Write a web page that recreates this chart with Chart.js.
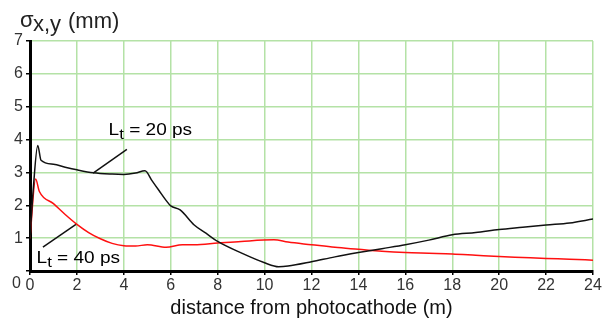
<!DOCTYPE html>
<html>
<head>
<meta charset="utf-8">
<script src="https://cdn.jsdelivr.net/npm/chart.js@4/dist/chart.umd.min.js"></script>
<style>
  html, body { margin: 0; padding: 0; background: #fff; }
  #wrap { width: 616px; height: 323px; position: relative; }
</style>
</head>
<body>
<div id="wrap"><canvas id="chart"></canvas></div>
<script>
// beam size along the line, two laser pulse lengths
const distance20 = [0, 0.15, 0.33, 0.47, 1, 1.5, 2, 2.7, 3.5, 4, 4.5, 4.9, 5.2, 5.5, 5.8, 6, 6.4, 7, 7.5, 8, 9, 10, 10.6, 11, 12, 13, 14, 15, 16, 17, 18, 19, 20, 21, 22, 23, 24];
const sigma20 = [1.0, 2.6, 3.82, 3.37, 3.25, 3.16, 3.08, 2.99, 2.95, 2.94, 2.98, 3.05, 2.75, 2.45, 2.15, 1.98, 1.86, 1.4, 1.15, 0.9, 0.55, 0.25, 0.13, 0.15, 0.28, 0.43, 0.56, 0.68, 0.8, 0.94, 1.1, 1.17, 1.26, 1.33, 1.4, 1.46, 1.58];

const distance40 = [0, 0.24, 0.4, 1, 1.5, 2, 2.5, 3, 3.5, 4, 4.5, 5, 5.8, 6.5, 7, 8, 9, 10.4, 11, 12, 13, 14, 15, 16, 17, 18, 19, 20, 21, 22, 23, 24];
const sigma40 = [1.0, 2.8, 2.42, 2.05, 1.72, 1.42, 1.17, 0.98, 0.84, 0.77, 0.76, 0.8, 0.72, 0.8, 0.8, 0.85, 0.9, 0.95, 0.88, 0.8, 0.72, 0.66, 0.6, 0.56, 0.54, 0.52, 0.48, 0.44, 0.41, 0.38, 0.36, 0.33];

// leader lines from the labels to the curves
const leader20 = [[4.13, 3.7], [2.69, 2.98]];
const leader40 = [[0.55, 0.73], [1.96, 1.42]];

const labels = [
  { text: '20', x: 3.35, y: 4.15 },
  { text: '40', x: 0.28, y: 0.24 }
];

const xTicks = [0, 2, 4, 6, 8, 10, 12, 14, 16, 18, 20, 22, 24];
const yTicks = [0, 1, 2, 3, 4, 5, 6, 7];

const toPoints = (xs, ys) => xs.map((x, i) => ({ x: x, y: ys[i] }));
const FONT = 'Liberation Sans, Arial, sans-serif';

// axis title on top, pulse length labels and the shifted zero label
const textPlugin = {
  id: 'texts',
  afterDraw(chart) {
    const { ctx, scales } = chart;
    ctx.save();
    ctx.fillStyle = '#222';
    ctx.textBaseline = 'alphabetic';
    ctx.textAlign = 'left';

    ctx.font = '22px ' + FONT;
    ctx.fillText('σ', 20, 27);
    ctx.fillText('x,y', 33, 31);
    ctx.fillText('(mm)', 68, 28);

    ctx.fillStyle = '#000';
    labels.forEach(l => {
      const px = scales.x.getPixelForValue(l.x);
      const py = scales.y.getPixelForValue(l.y);
      ctx.save();
      ctx.translate(px, py);
      ctx.scale(1.12, 1);
      ctx.font = '17px ' + FONT;
      ctx.fillText('L', 0, 0);
      const w = ctx.measureText('L').width;
      ctx.font = '15px ' + FONT;
      ctx.fillText('t', w, 4);
      const tw = ctx.measureText('t').width;
      ctx.font = '17px ' + FONT;
      ctx.fillText(' = ' + l.text + ' ps', w + tw, 0);
      ctx.restore();
    });

    ctx.fillStyle = '#333';
    ctx.font = '16px ' + FONT;
    ctx.textAlign = 'right';
    ctx.fillText('0', 21, scales.y.getPixelForValue(0) + 17);
    ctx.restore();
  }
};

const curve = (xs, ys, color) => ({
  data: toPoints(xs, ys),
  borderColor: color,
  borderWidth: 1.5,
  pointRadius: 0,
  cubicInterpolationMode: 'monotone'
});

const leader = pts => ({
  data: pts.map(p => ({ x: p[0], y: p[1] })),
  borderColor: '#111',
  borderWidth: 1.5,
  pointRadius: 0
});

new Chart(document.getElementById('chart'), {
  type: 'line',
  data: {
    datasets: [
      curve(distance20, sigma20, '#111'),
      curve(distance40, sigma40, '#ff1010'),
      leader(leader20),
      leader(leader40)
    ]
  },
  options: {
    responsive: true,
    maintainAspectRatio: false,
    animation: false,
    layout: { padding: { top: 41, right: 23, left: 0, bottom: 0 } },
    plugins: { legend: { display: false }, tooltip: { enabled: false } },
    scales: {
      x: {
        type: 'linear',
        min: 0,
        max: 24,
        afterBuildTicks: s => { s.ticks = xTicks.map(v => ({ value: v })); },
        afterFit: s => { s.height = 52; },
        border: { color: '#000', width: 3 },
        grid: { color: '#b4e2a6', lineWidth: 1.5, tickLength: 4, tickColor: '#000' },
        ticks: { color: '#333', font: { family: FONT, size: 16 }, padding: 1, maxRotation: 0 },
        title: { display: true, text: 'distance from photocathode (m)', color: '#111', font: { family: FONT, size: 20 }, padding: { top: 0, bottom: 3 } }
      },
      y: {
        min: 0,
        max: 7,
        afterBuildTicks: s => { s.ticks = yTicks.map(v => ({ value: v })); },
        afterFit: s => { s.width = 30; },
        border: { color: '#000', width: 3 },
        grid: { color: '#b4e2a6', lineWidth: 1.5, tickLength: 4, tickColor: '#000' },
        ticks: { color: '#333', font: { family: FONT, size: 16 }, padding: 3, callback: v => (v === 0 ? '' : v) }
      }
    }
  },
  plugins: [textPlugin]
});
</script>
</body>
</html>
